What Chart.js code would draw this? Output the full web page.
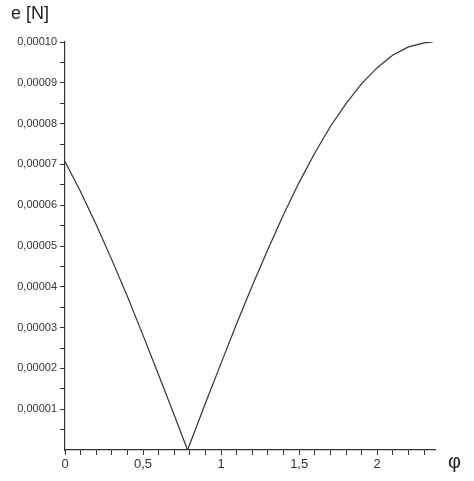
<!DOCTYPE html>
<html>
<head>
  <script src="https://cdn.jsdelivr.net/npm/chart.js"></script>
  <style>
    body { margin: 0; background: #fff; font-family: "Liberation Sans", Arial, sans-serif; }
    #wrap { position: relative; width: 474px; height: 481px; }
    .lbl { position: absolute; font-size: 18px; color: #222; }
  </style>
</head>
<body>
  <div id="wrap">
    <canvas id="chart" width="474" height="481"></canvas>
    <div class="lbl" style="left:11px;top:3px;">e [N]</div>
    <div class="lbl" style="left:448px;top:450px;font-size:20px;">φ</div>
  </div>
  <script>
    const phi = [0, 0.1, 0.2, 0.3, 0.4, 0.5, 0.6, 0.7, 0.785, 0.9, 1.0, 1.1, 1.2, 1.3, 1.4, 1.5, 1.6, 1.7, 1.8, 1.9, 2.0, 2.1, 2.2, 2.3, 2.356];
    const e = [0.0000707, 0.0000633, 0.0000552, 0.0000466, 0.0000376, 0.0000281, 0.0000184, 0.0000085, 0.0000000, 0.0000115, 0.0000213, 0.0000310, 0.0000403, 0.0000492, 0.0000577, 0.0000656, 0.0000728, 0.0000793, 0.0000849, 0.0000898, 0.0000937, 0.0000968, 0.0000988, 0.0000998, 0.0001000];
    const xMajor = [0, 0.5, 1, 1.5, 2];
    const yMajor = [0.00001, 0.00002, 0.00003, 0.00004, 0.00005, 0.00006, 0.00007, 0.00008, 0.00009, 0.0001];

    const near = (v, arr) => arr.some(a => Math.abs(a - v) < 1e-9);
    const comma = s => s.replace('.', ',');

    new Chart(document.getElementById('chart'), {
      type: 'line',
      data: {
        datasets: [{
          data: phi.map((x, i) => ({ x: x, y: e[i] })),
          borderColor: '#333',
          borderWidth: 1.2,
          pointRadius: 0,
          tension: 0
        }]
      },
      options: {
        responsive: false,
        animation: false,
        layout: { padding: { top: 42, right: 39 } },
        plugins: { legend: { display: false }, tooltip: { enabled: false } },
        scales: {
          x: {
            type: 'linear', min: 0, max: 2.37,
            afterBuildTicks: s => { s.ticks = []; for (let i = 0; i <= 23; i++) s.ticks.push({ value: i / 10 }); },
            afterFit: s => { s.height = 31; },
            border: { color: '#333', width: 1.2 },
            grid: { drawOnChartArea: false, tickLength: 5, color: '#333' },
            ticks: {
              autoSkip: false, maxRotation: 0, color: '#333', padding: 2,
              font: { family: 'Liberation Sans', size: 13 },
              callback: v => near(v, xMajor) ? comma(String(v)) : ''
            }
          },
          y: {
            min: 0, max: 0.0001,
            afterBuildTicks: s => { s.ticks = []; for (let i = 1; i <= 20; i++) s.ticks.push({ value: i * 0.000005 }); },
            afterFit: s => { s.width = 65; },
            border: { color: '#333', width: 1.2 },
            grid: { drawOnChartArea: false, tickLength: 5, color: '#333' },
            ticks: {
              autoSkip: false, color: '#333', padding: 3,
              font: { family: 'Liberation Sans', size: 11 },
              callback: v => near(v, yMajor) ? comma(v.toFixed(5)) : ''
            }
          }
        }
      }
    });
  </script>
</body>
</html>
